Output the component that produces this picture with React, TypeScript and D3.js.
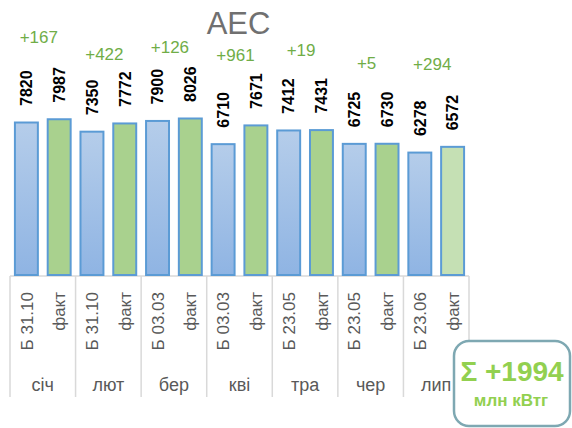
import React from "react";
import * as d3 from "d3";

const months = ["січ", "лют", "бер", "кві", "тра", "чер", "лип"];
const planLabels = ["Б 31.10", "Б 31.10", "Б 03.03", "Б 03.03", "Б 23.05", "Б 23.05", "Б 23.06"];
const factLabel = "факт";
const planValues = [7820, 7350, 7900, 6710, 7412, 6725, 6278];
const factValues = [7987, 7772, 8026, 7671, 7431, 6730, 6572];
const diffLabels = ["+167", "+422", "+126", "+961", "+19", "+5", "+294"];
const diffLabelBaselineY = [43, 60, 53, 61, 56, 69, 70];
const title = "АЕС";
const totalText = "Σ +1994";
const unitText = "млн кВтг";

const W = 572;
const H = 428;
const FONT = "'Liberation Sans', Arial, sans-serif";

export default function App() {
  const x0 = d3.scaleBand<string>().domain(months).range([10, 469]).padding(0);
  const x1 = d3
    .scaleBand<string>()
    .domain(["plan", "fact"])
    .range([0, x0.bandwidth()])
    .paddingInner(0.3)
    .paddingOuter(0.15);
  const y = d3.scaleLinear().domain([0, 10000]).range([275, 80]);
  const baseY = y(0);

  const bars: { key: string; x: number; v: number; kind: string; i: number }[] = [];
  months.forEach((m, i) => {
    bars.push({ key: m + "p", x: (x0(m) as number) + (x1("plan") as number), v: planValues[i], kind: "plan", i });
    bars.push({ key: m + "f", x: (x0(m) as number) + (x1("fact") as number), v: factValues[i], kind: "fact", i });
  });
  const bw = x1.bandwidth();
  const boundaries = months.map((m) => x0(m) as number).concat([x0.range()[1]]);

  return (
    <svg
      width={W}
      height={H}
      style={{ position: "fixed", left: 0, top: 0, background: "#fff" }}
      fontFamily={FONT}
    >
      <defs>
        <linearGradient id="blueGrad" x1="0" y1="0" x2="0" y2="1">
          <stop offset="0%" stopColor="#b5cdea" />
          <stop offset="100%" stopColor="#8fb4e3" />
        </linearGradient>
      </defs>

      <text x={238.5} y={34} textAnchor="middle" fontSize={31} fill="#707070">
        {title}
      </text>

      {/* axis */}
      <line x1={10} x2={469} y1={276} y2={276} stroke="#d9d9d9" strokeWidth={1.5} />
      {boundaries.map((bx, i) => (
        <line key={"sep" + i} x1={bx} x2={bx} y1={276} y2={397} stroke="#d9d9d9" strokeWidth={1.5} />
      ))}

      {/* bars */}
      {bars.map((b) => {
        const top = y(b.v);
        const isLast = b.kind === "fact" && b.i === months.length - 1;
        const fill = b.kind === "plan" ? "url(#blueGrad)" : isLast ? "#c5e0b4" : "#a9d18e";
        return (
          <g key={b.key}>
            <rect
              x={b.x}
              y={top}
              width={bw}
              height={baseY - top}
              fill={fill}
              stroke="#5b9bd5"
              strokeWidth={2}
            />
            <text
              transform={`translate(${b.x + bw / 2},${top - 16.5}) rotate(-90)`}
              dy="0.36em"
              fontSize={16}
              fontWeight="bold"
              fill="#000"
            >
              {b.v}
            </text>
            <text
              transform={`translate(${b.x + bw / 2},292) rotate(-90)`}
              dy="0.36em"
              textAnchor="end"
              fontSize={17}
              fill="#595959"
            >
              {b.kind === "plan" ? planLabels[b.i] : factLabel}
            </text>
          </g>
        );
      })}

      {/* month labels */}
      {months.map((m) => (
        <text
          key={"m" + m}
          x={(x0(m) as number) + x0.bandwidth() / 2}
          y={391}
          textAnchor="middle"
          fontSize={18}
          fill="#595959"
        >
          {m}
        </text>
      ))}

      {/* diff labels */}
      {months.map((m, i) => (
        <text
          key={"d" + m}
          x={(x0(m) as number) + x0.bandwidth() / 2 - 4}
          y={diffLabelBaselineY[i]}
          textAnchor="middle"
          fontSize={17}
          fill="#70ad47"
        >
          {diffLabels[i]}
        </text>
      ))}

      {/* total box */}
      <rect x={454} y={341} width={116} height={85} rx={15} ry={15} fill="#fff" stroke="#7ea8b2" strokeWidth={2.5} />
      <text x={512} y={381} textAnchor="middle" fontSize={28} fontWeight="bold" fill="#92d050">
        {totalText}
      </text>
      <text x={511} y={406} textAnchor="middle" fontSize={17} fontWeight="bold" fill="#92d050">
        {unitText}
      </text>
    </svg>
  );
}
